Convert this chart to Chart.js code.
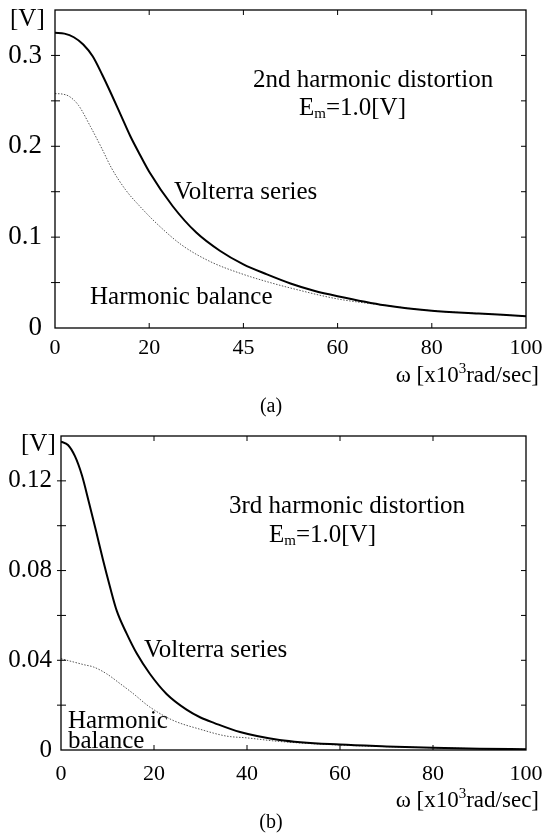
<!DOCTYPE html>
<html>
<head>
<meta charset="utf-8">
<script src="https://cdn.jsdelivr.net/npm/chart.js@4.4.1/dist/chart.umd.min.js"></script>
<style>
  body { margin: 0; background: #fff; }
  canvas { display: block; }
</style>
</head>
<body>
<canvas id="chart2nd" width="542" height="420"></canvas>
<canvas id="chart3rd" width="542" height="413"></canvas>
<script>
// (a) 2nd harmonic distortion, omega in x10^3 rad/sec, amplitude in V
const volterra2W = [0, 2, 4, 6, 8, 10, 12, 14, 16, 18, 20, 25, 30, 35, 40, 45, 50, 55, 60, 70, 80, 90, 100];
const volterra2V = [0.325, 0.324, 0.320, 0.312, 0.299, 0.279, 0.257, 0.234, 0.211, 0.191, 0.172, 0.134, 0.105, 0.085, 0.070, 0.059, 0.049, 0.041, 0.035, 0.025, 0.019, 0.016, 0.013];
const harmonic2W = [0, 1.5, 3, 5, 7.5, 10, 12, 15, 18, 22, 27, 33, 40, 45, 50, 60, 70, 80, 90, 100];
const harmonic2V = [0.258, 0.2575, 0.255, 0.245, 0.222, 0.197, 0.176, 0.152, 0.134, 0.113, 0.091, 0.073, 0.059, 0.051, 0.044, 0.032, 0.025, 0.019, 0.016, 0.013];
const xTickLabels2nd = ['0', '20', '45', '60', '80', '100'];

// (b) 3rd harmonic distortion
const volterra3W = [0, 1.5, 3, 4.5, 6, 7.5, 9, 10.5, 12, 14.1, 16.3, 19.1, 22.7, 27, 30, 33, 38.5, 47, 60, 70, 80, 90, 100];
const volterra3V = [0.1375, 0.136, 0.131, 0.1225, 0.1105, 0.098, 0.085, 0.073, 0.062, 0.052, 0.043, 0.034, 0.025, 0.018, 0.0145, 0.012, 0.008, 0.0045, 0.0024, 0.0016, 0.001, 0.0006, 0.0003];
const harmonic3W = [0, 2.6, 5, 7, 9.8, 12.7, 15.5, 19, 24, 30, 35.6, 40, 47, 60, 70, 80, 90, 100];
const harmonic3V = [0.0407, 0.0393, 0.038, 0.037, 0.034, 0.0296, 0.0252, 0.0193, 0.0133, 0.0092, 0.0062, 0.0054, 0.0038, 0.0022, 0.0015, 0.001, 0.0006, 0.0003];
const xTickLabels3rd = ['0', '20', '40', '60', '80', '100'];

const SERIF = '"Liberation Serif", "Times New Roman", serif';

function toPoints(ws, vs) {
    return ws.map((w, i) => ({ x: w, y: vs[i] }));
}

function drawEm(ctx, x, y) {
    ctx.font = '25px ' + SERIF;
    ctx.fillText('E', x, y);
    let cx = x + ctx.measureText('E').width;
    ctx.font = '15px ' + SERIF;
    ctx.fillText('m', cx, y + 3);
    cx += ctx.measureText('m').width;
    ctx.font = '25px ' + SERIF;
    ctx.fillText('=1.0[V]', cx, y);
}

function drawOmega(ctx, right, y) {
    const main1 = 'ω [x10', sup = '3', main2 = 'rad/sec]';
    ctx.font = '23px ' + SERIF;
    const w1 = ctx.measureText(main1).width;
    const w3 = ctx.measureText(main2).width;
    ctx.font = '15px ' + SERIF;
    const w2 = ctx.measureText(sup).width;
    let x = right - w1 - w2 - w3;
    ctx.font = '23px ' + SERIF;
    ctx.fillText(main1, x, y);
    ctx.font = '15px ' + SERIF;
    ctx.fillText(sup, x + w1, y - 9);
    ctx.font = '23px ' + SERIF;
    ctx.fillText(main2, x + w1 + w2, y);
}

// frame, inward ticks and the annotations
const framePlugin = {
    id: 'framePlugin',
    afterDraw(chart, args, opts) {
        const { ctx, chartArea: a, scales: { x, y } } = chart;
        ctx.save();
        ctx.strokeStyle = '#000';
        ctx.lineWidth = 1.3;
        ctx.strokeRect(a.left, a.top, a.right - a.left, a.bottom - a.top);
        ctx.lineWidth = 1;
        ctx.beginPath();
        x.ticks.forEach(t => {
            const px = x.getPixelForValue(t.value);
            if (px <= a.left + 1 || px >= a.right - 1) return;
            ctx.moveTo(px, a.bottom); ctx.lineTo(px, a.bottom - 5);
            ctx.moveTo(px, a.top); ctx.lineTo(px, a.top + 5);
        });
        y.ticks.forEach(t => {
            const py = y.getPixelForValue(t.value);
            if (py <= a.top + 1 || py >= a.bottom - 1) return;
            ctx.moveTo(a.left - 4, py); ctx.lineTo(a.left + 5, py);
            ctx.moveTo(a.right, py); ctx.lineTo(a.right - 5, py);
        });
        ctx.stroke();

        ctx.fillStyle = '#000';
        ctx.textBaseline = 'alphabetic';
        opts.texts.forEach(t => {
            if (t.kind === 'em') { ctx.textAlign = 'left'; drawEm(ctx, t.x, t.y); return; }
            if (t.kind === 'omega') { ctx.textAlign = 'left'; drawOmega(ctx, t.x, t.y); return; }
            ctx.font = (t.size || 25) + 'px ' + SERIF;
            ctx.textAlign = t.align || 'left';
            ctx.fillText(t.text, t.x, t.y);
        });
        ctx.restore();
    }
};

function noEdgePadding(s) {
    s.paddingLeft = 0;
    s.paddingRight = 0;
    s.paddingTop = 0;
    s.paddingBottom = 0;
}

function makeChart(canvasId, cfg) {
    const ctx = document.getElementById(canvasId).getContext('2d');
    return new Chart(ctx, {
        type: 'line',
        data: {
            datasets: [{
                label: 'Volterra series',
                data: toPoints(cfg.vW, cfg.vV),
                borderColor: '#000',
                borderWidth: 2,
                pointRadius: 0,
                cubicInterpolationMode: 'monotone'
            }, {
                label: 'Harmonic balance',
                data: toPoints(cfg.hW, cfg.hV),
                borderColor: '#555',
                borderWidth: 1,
                borderDash: [1.5, 1.5],
                pointRadius: 0,
                cubicInterpolationMode: 'monotone'
            }]
        },
        options: {
            responsive: false,
            animation: false,
            devicePixelRatio: 1,
            layout: { padding: { top: cfg.top, right: 16, left: 0, bottom: 0 }, autoPadding: false },
            plugins: {
                legend: { display: false },
                tooltip: { enabled: false },
                framePlugin: { texts: cfg.texts }
            },
            scales: {
                x: {
                    type: 'linear',
                    min: 0,
                    max: 100,
                    grid: { display: false, drawTicks: false },
                    border: { display: false },
                    afterFit: s => { s.height = cfg.xAxisH; noEdgePadding(s); },
                    afterBuildTicks: s => { s.ticks = [0, 20, 40, 60, 80, 100].map(v => ({ value: v })); },
                    ticks: {
                        padding: cfg.xPad,
                        color: '#000',
                        maxRotation: 0,
                        font: { family: SERIF, size: 22 },
                        callback: (v, i) => cfg.xLabels[i]
                    }
                },
                y: {
                    min: 0,
                    max: cfg.yMax,
                    grid: { display: false, drawTicks: false },
                    border: { display: false },
                    afterFit: s => { s.width = cfg.left; noEdgePadding(s); },
                    ticks: {
                        stepSize: cfg.yStep,
                        padding: cfg.yPad,
                        color: '#000',
                        font: { family: SERIF, size: cfg.yFont },
                        callback: v => {
                            const k = Math.round(v / cfg.yStep);
                            if (v >= cfg.yMax - 1e-9) return '';
                            return k % 2 === 0 ? String(+v.toFixed(2)) : '';
                        }
                    }
                }
            }
        },
        plugins: [framePlugin]
    });
}

makeChart('chart2nd', {
    vW: volterra2W, vV: volterra2V, hW: harmonic2W, hV: harmonic2V,
    xLabels: xTickLabels2nd, yMax: 0.35, yStep: 0.05,
    top: 10, left: 55, xAxisH: 92, xPad: 7, yPad: 13, yFont: 27,
    texts: [
        { text: '[V]', x: 10, y: 26 },
        { text: '2nd harmonic distortion', x: 253, y: 87 },
        { kind: 'em', x: 299, y: 115 },
        { text: 'Volterra series', x: 174, y: 199 },
        { text: 'Harmonic balance', x: 90, y: 304 },
        { kind: 'omega', x: 539, y: 382 },
        { text: '(a)', x: 271, y: 412, align: 'center', size: 20 }
    ]
});

makeChart('chart3rd', {
    vW: volterra3W, vV: volterra3V, hW: harmonic3W, hV: harmonic3V,
    xLabels: xTickLabels3rd, yMax: 0.14, yStep: 0.02,
    top: 16, left: 61, xAxisH: 83, xPad: 11, yPad: 9, yFont: 25,
    texts: [
        { text: '[V]', x: 21, y: 31 },
        { text: '3rd harmonic distortion', x: 229, y: 93 },
        { kind: 'em', x: 269, y: 122 },
        { text: 'Volterra series', x: 144, y: 237 },
        { text: 'Harmonic', x: 68, y: 308 },
        { text: 'balance', x: 68, y: 328 },
        { kind: 'omega', x: 539, y: 387 },
        { text: '(b)', x: 271, y: 408, align: 'center', size: 20 }
    ]
});
</script>
</body>
</html>
